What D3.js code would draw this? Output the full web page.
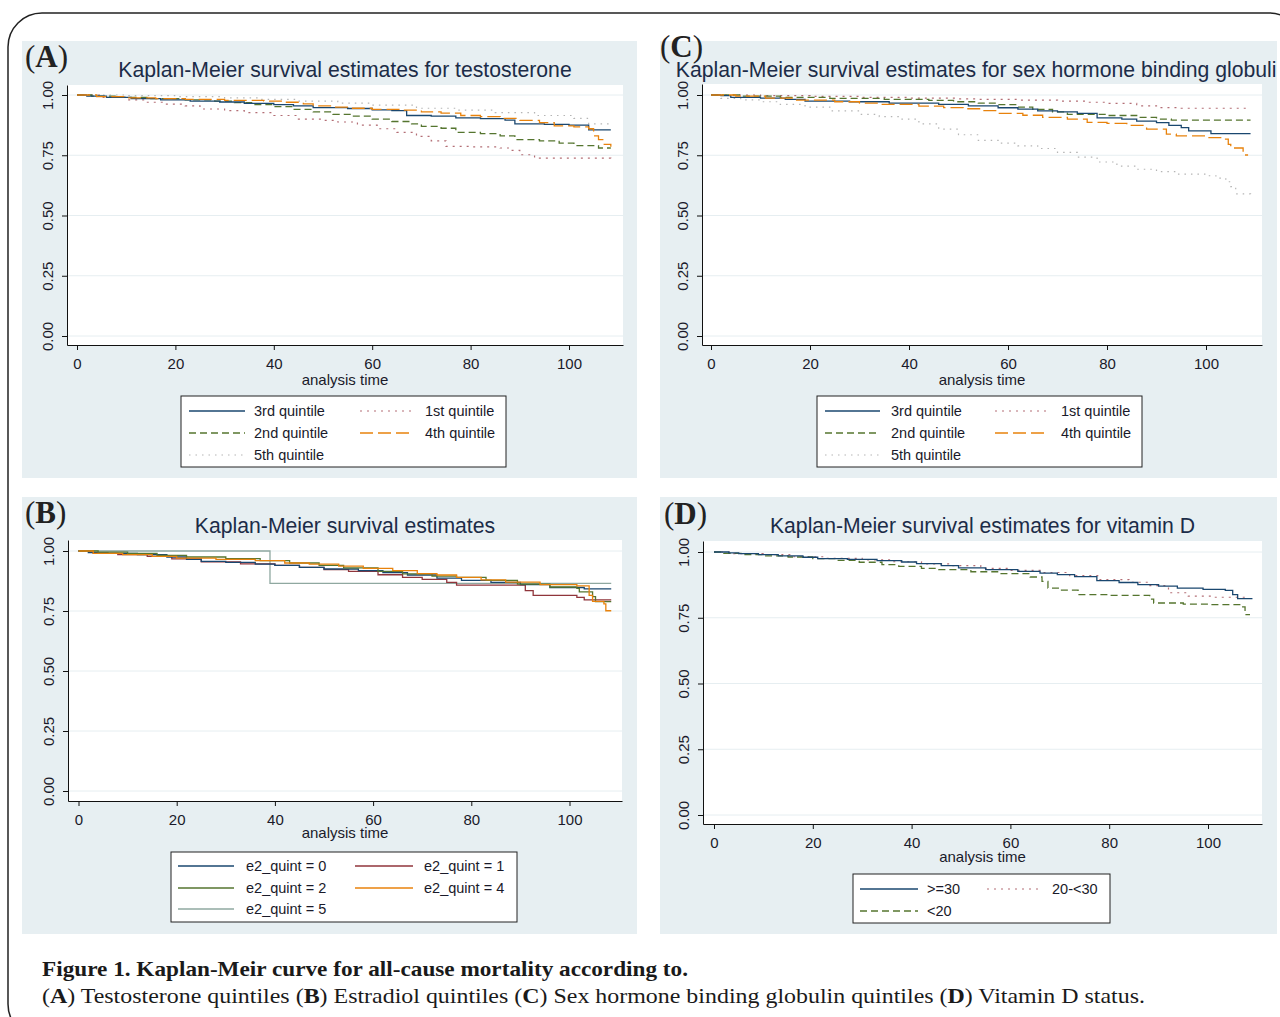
<!DOCTYPE html>
<html lang="en">
<head>
<meta charset="UTF-8">
<title>Kaplan-Meier curves for all-cause mortality</title>
<script src="https://cdn.jsdelivr.net/npm/d3@7"></script>
<style>
  body { margin: 0; background: #fff; }
  svg { display: block; }
</style>
</head>
<body>
<script>
// tick values shared by all four panels
const timeTicks = [0, 20, 40, 60, 80, 100];
const survTicks = [0, 0.25, 0.5, 0.75, 1];

// (A) testosterone quintiles  [analysis time, survival]
const testoQ3 = [[0,1],[2,0.995],[6,0.99],[11,0.985],[17,0.98],[23,0.975],[29,0.971],[34,0.965],[40,0.96],[44,0.955],[48,0.948],[55,0.944],[60,0.938],[64,0.935],[67,0.915],[72,0.912],[77,0.905],[82,0.902],[87,0.896],[89,0.88],[95,0.878],[100,0.875],[104,0.855],[108.5,0.855]];
const testoQ1 = [[0,1],[5,0.99],[10,0.98],[14,0.97],[18,0.962],[22,0.955],[25,0.942],[30,0.935],[34,0.927],[40,0.915],[45,0.9],[50,0.895],[53,0.888],[57,0.875],[61,0.86],[65,0.845],[69,0.828],[72,0.81],[75,0.787],[80,0.785],[86,0.78],[88,0.77],[90,0.752],[93,0.738],[108.5,0.735]];
const testoQ2 = [[0,1],[3,0.995],[8,0.99],[15,0.985],[22,0.98],[28,0.975],[32,0.968],[36,0.96],[40,0.952],[44,0.94],[48,0.93],[52,0.92],[56,0.912],[60,0.9],[64,0.89],[68,0.88],[70,0.87],[74,0.862],[77,0.845],[82,0.84],[86,0.83],[89,0.815],[94,0.81],[98,0.8],[101,0.79],[106,0.78],[108.5,0.78]];
const testoQ4 = [[0,1],[4,0.993],[10,0.988],[16,0.985],[22,0.982],[30,0.978],[38,0.975],[42,0.97],[46,0.963],[48,0.955],[52,0.95],[56,0.945],[60,0.94],[66,0.937],[70,0.93],[74,0.925],[78,0.915],[82,0.91],[86,0.903],[90,0.895],[94,0.885],[97,0.872],[101,0.868],[104,0.86],[105,0.83],[106,0.815],[107,0.795],[108.5,0.785]];
const testoQ5 = [[0,1],[10,0.997],[20,0.993],[30,0.988],[37,0.982],[45,0.975],[53,0.966],[60,0.958],[69,0.945],[77,0.937],[85,0.927],[93,0.915],[101,0.903],[104,0.88],[108.5,0.872]];
const testoLabels = ["3rd quintile", "1st quintile", "2nd quintile", "4th quintile", "5th quintile"];

// (B) estradiol quintiles
const e2Q0 = [[0,1],[2,0.993],[6,0.99],[12,0.985],[18,0.975],[22,0.965],[25,0.957],[30,0.953],[36,0.945],[40,0.94],[45,0.932],[50,0.925],[57,0.918],[62,0.91],[67,0.9],[73,0.887],[78,0.878],[84,0.869],[90,0.86],[96,0.848],[103,0.842],[108.5,0.842]];
const e2Q1 = [[0,1],[3,0.99],[8,0.985],[14,0.978],[19,0.967],[25,0.955],[33,0.946],[40,0.94],[45,0.932],[50,0.922],[55,0.915],[61,0.901],[66,0.89],[70,0.882],[75,0.869],[77,0.858],[91,0.835],[92.6,0.815],[101.5,0.807],[103,0.796],[108.5,0.796]];
const e2Q2 = [[0,1],[4,0.995],[10,0.99],[16,0.982],[22,0.975],[30,0.968],[37,0.96],[43,0.95],[49,0.94],[54,0.93],[61,0.915],[66,0.905],[72,0.895],[77,0.89],[83,0.878],[89.4,0.862],[96,0.85],[101.5,0.844],[102,0.83],[104.7,0.81],[105.3,0.789],[108.5,0.789]];
const e2Q4 = [[0,1],[3,0.99],[9,0.985],[15,0.978],[20,0.97],[28,0.965],[36,0.96],[42,0.95],[47,0.945],[53,0.937],[58,0.928],[64,0.918],[69,0.906],[73,0.9],[77,0.89],[82,0.88],[87,0.87],[94,0.86],[101.5,0.855],[104,0.815],[104.7,0.79],[107,0.78],[107.4,0.751],[108.5,0.751]];
const e2Q5 = [[0,1],[39,0.865],[108.5,0.865]];
const e2Labels = ["e2_quint = 0", "e2_quint = 1", "e2_quint = 2", "e2_quint = 4", "e2_quint = 5"];

// (C) sex hormone binding globulin quintiles
const shbgQ3 = [[0,1],[2,0.997],[4,0.99],[10,0.987],[15,0.982],[19,0.975],[28,0.972],[36,0.966],[46,0.961],[52,0.955],[58,0.947],[62,0.941],[66,0.934],[70,0.93],[74,0.924],[78,0.905],[83,0.9],[86,0.892],[90,0.885],[92.5,0.874],[95,0.865],[96.5,0.851],[101,0.84],[109,0.84]];
const shbgQ1 = [[0,1],[10,0.997],[20,0.994],[30,0.99],[40,0.987],[50,0.984],[54,0.982],[62,0.979],[70,0.975],[76,0.97],[80,0.965],[86,0.955],[90,0.948],[95,0.945],[108.5,0.943]];
const shbgQ2 = [[0,1],[6,0.995],[14,0.99],[24,0.986],[35,0.982],[44,0.978],[49,0.972],[54,0.966],[58,0.96],[62,0.95],[65,0.94],[69,0.93],[72,0.92],[80,0.915],[86,0.907],[90,0.9],[93,0.896],[109,0.896]];
const shbgQ4 = [[0,1],[5,0.995],[11,0.987],[17,0.979],[25,0.972],[30,0.966],[34,0.961],[42,0.954],[47,0.948],[51,0.943],[55,0.935],[58,0.924],[63,0.916],[67,0.907],[72,0.9],[76,0.886],[80,0.882],[84,0.874],[88,0.858],[92,0.838],[94,0.83],[100,0.823],[103.5,0.817],[104.5,0.795],[105,0.78],[107.5,0.751],[108.5,0.751]];
const shbgQ5 = [[0,1],[2,0.986],[6,0.98],[10,0.972],[14,0.961],[19,0.95],[24,0.934],[30,0.92],[34,0.91],[38,0.9],[42,0.88],[46,0.858],[50,0.835],[54,0.812],[58,0.8],[62,0.789],[66,0.778],[70,0.762],[74,0.742],[78,0.722],[82,0.705],[86,0.692],[90,0.682],[94,0.672],[100,0.665],[102,0.655],[104,0.64],[105,0.62],[106,0.59],[109,0.582]];

// (D) vitamin D status
const vitD30 = [[0,1],[3,0.997],[5,0.994],[9,0.99],[13,0.985],[18,0.98],[21,0.975],[27,0.972],[33,0.967],[38,0.962],[41,0.956],[46,0.948],[49.5,0.94],[55,0.933],[61.5,0.926],[66,0.92],[69.5,0.914],[73,0.906],[77.5,0.891],[82,0.884],[85.8,0.876],[90,0.87],[93.8,0.863],[99,0.858],[103.5,0.854],[105,0.838],[106,0.823],[109,0.823]];
const vitD20 = [[0,1],[4,0.994],[10,0.99],[16,0.982],[22,0.976],[30,0.97],[36,0.963],[42,0.955],[48,0.948],[54,0.938],[60,0.93],[66,0.922],[72,0.91],[78,0.895],[84,0.885],[88,0.872],[92,0.845],[96,0.832],[101,0.828],[108,0.828]];
const vitDlt20 = [[0,1],[2,0.995],[6,0.99],[10,0.985],[15,0.981],[20,0.975],[25,0.968],[29.4,0.961],[34,0.952],[37.4,0.945],[42,0.938],[45.5,0.933],[52,0.925],[57.6,0.918],[64,0.905],[66.4,0.888],[67.6,0.863],[70,0.855],[73.7,0.838],[80,0.835],[88.2,0.821],[89,0.806],[95,0.802],[100,0.8],[106.7,0.791],[107.5,0.762],[108.5,0.762]];
const vitDLabels = [">=30", "20-<30", "<20"];

const titles = [
  "Kaplan-Meier survival estimates for testosterone",
  "Kaplan-Meier survival estimates",
  "Kaplan-Meier survival estimates for sex hormone binding globulin",
  "Kaplan-Meier survival estimates for vitamin D"
];

// line looks (stata s2color)
const looks = {
  navy:   { color: "#1a476f", dash: null, width: 1.3 },
  maroon: { color: "#90353b", dash: null, width: 1.3 },
  green:  { color: "#55752f", dash: null, width: 1.3 },
  orange: { color: "#e8820c", dash: null, width: 1.3 },
  teal:   { color: "#8fa8a0", dash: null, width: 1.3 },
  mDot:   { color: "#a04a52", dash: "2,5", width: 1.2, opacity: 0.8 },
  gDash:  { color: "#55752f", dash: "7,4", width: 1.3 },
  oLong:  { color: "#e8820c", dash: "13,5", width: 1.3 },
  gryDot: { color: "#b5b5b5", dash: "1.5,5", width: 1.2 }
};

const panels = [
  { tag: "A", title: titles[0], bg: [22, 41, 615, 437], plot: { l: 67, r: 623, t: 85, b: 345 },
    x0: 77, x100: 569, y0: 336, y1: 95, xlabDy: 40, tagPos: [25, 67],
    series: [[testoQ5, "gryDot"], [testoQ1, "mDot"], [testoQ2, "gDash"], [testoQ3, "navy"], [testoQ4, "oLong"]],
    legend: { box: [181, 396, 325, 71], cols: [[189, 245, 254], [360, 411, 425]], rows: [411, 433, 455],
      items: [[testoLabels[0], "navy"], [testoLabels[1], "mDot"], [testoLabels[2], "gDash"], [testoLabels[3], "oLong"], [testoLabels[4], "gryDot"]] } },
  { tag: "B", title: titles[1], bg: [22, 497, 615, 437], plot: { l: 68, r: 622, t: 540, b: 801 },
    x0: 78.5, x100: 569.5, y0: 791, y1: 551, xlabDy: 37, tagPos: [25, 523],
    series: [[e2Q5, "teal"], [e2Q1, "maroon"], [e2Q0, "navy"], [e2Q2, "green"], [e2Q4, "orange"]],
    legend: { box: [171, 852, 346, 70], cols: [[178, 234, 246], [355, 413, 424]], rows: [866, 888, 909],
      items: [[e2Labels[0], "navy"], [e2Labels[1], "maroon"], [e2Labels[2], "green"], [e2Labels[3], "orange"], [e2Labels[4], "teal"]] } },
  { tag: "C", title: titles[2], bg: [660, 41, 617, 437], plot: { l: 702, r: 1262, t: 84, b: 345 },
    x0: 711, x100: 1206, y0: 336, y1: 95, xlabDy: 40, tagPos: [660, 57],
    series: [[shbgQ5, "gryDot"], [shbgQ1, "mDot"], [shbgQ2, "gDash"], [shbgQ3, "navy"], [shbgQ4, "oLong"]],
    legend: { box: [817, 396, 325, 71], cols: [[825, 880, 891], [995, 1047, 1061]], rows: [411, 433, 455],
      items: [[testoLabels[0], "navy"], [testoLabels[1], "mDot"], [testoLabels[2], "gDash"], [testoLabels[3], "oLong"], [testoLabels[4], "gryDot"]] } },
  { tag: "D", title: titles[3], bg: [660, 497, 617, 437], plot: { l: 703, r: 1262, t: 541, b: 824 },
    x0: 714, x100: 1208, y0: 815, y1: 552, xlabDy: 38, tagPos: [664, 524],
    series: [[vitD20, "mDot"], [vitDlt20, "gDash"], [vitD30, "navy"]],
    legend: { box: [853, 874, 257, 49], cols: [[860, 918, 927], [987, 1043, 1052]], rows: [889, 911],
      items: [[vitDLabels[0], "navy"], [vitDLabels[1], "mDot"], [vitDLabels[2], "gDash"]] } }
];

const sans = "'Liberation Sans', Arial, sans-serif";
const serif = "'Liberation Serif', 'Times New Roman', serif";

const svg = d3.select("body").append("svg")
    .attr("width", 1280)
    .attr("height", 1017);

// outer rounded frame
svg.append("rect")
    .attr("x", 8).attr("y", 13)
    .attr("width", 1295).attr("height", 1025)
    .attr("rx", 34).attr("ry", 34)
    .attr("fill", "#fff")
    .attr("stroke", "#222")
    .attr("stroke-width", 1.5);

function applyLook(sel, key) {
  const lk = looks[key];
  sel.attr("fill", "none")
     .attr("stroke", lk.color)
     .attr("stroke-width", lk.width)
     .attr("stroke-opacity", lk.opacity || 1);
  if (lk.dash) sel.attr("stroke-dasharray", lk.dash);
}

panels.forEach((p, pi) => {
  const g = svg.append("g");
  const [bx, by, bw, bh] = p.bg;

  g.append("rect")
      .attr("x", bx).attr("y", by)
      .attr("width", bw).attr("height", bh)
      .attr("fill", "#e7eff2");

  const clipId = "clip" + pi;
  svg.append("clipPath").attr("id", clipId)
    .append("rect").attr("x", bx).attr("y", by - 20).attr("width", bw).attr("height", bh + 20);

  // scales: the axis spans the whole plot box, 0..100 falls where the ticks are
  const ppx = (p.x100 - p.x0) / 100;
  const ppy = (p.y0 - p.y1);
  const x = d3.scaleLinear()
      .domain([(p.plot.l - p.x0) / ppx, (p.plot.r - p.x0) / ppx])
      .range([p.plot.l, p.plot.r]);
  const y = d3.scaleLinear()
      .domain([(p.y0 - p.plot.b) / ppy, (p.y0 - p.plot.t) / ppy])
      .range([p.plot.b, p.plot.t]);

  g.append("rect")
      .attr("x", p.plot.l).attr("y", p.plot.t)
      .attr("width", p.plot.r - p.plot.l).attr("height", p.plot.b - p.plot.t)
      .attr("fill", "#fff");

  // grid lines
  g.selectAll("line.grid")
    .data(survTicks)
    .enter().append("line")
      .attr("class", "grid")
      .attr("x1", p.plot.l).attr("x2", p.plot.r)
      .attr("y1", d => y(d)).attr("y2", d => y(d))
      .attr("stroke", "#e6eef1")
      .attr("stroke-width", 1);

  // title (C is wider than its panel and gets cut at the edge)
  g.append("text")
      .attr("x", (p.plot.l + p.plot.r) / 2)
      .attr("y", by + 35.5)
      .attr("text-anchor", "middle")
      .attr("clip-path", `url(#${clipId})`)
      .style("font-family", sans)
      .style("font-size", "21.2px")
      .attr("fill", "#1c2c48")
      .text(p.title);

  // survival curves
  const line = d3.line()
      .x(d => x(d[0]))
      .y(d => y(d[1]))
      .curve(d3.curveStepAfter);

  p.series.forEach(([data, key]) => {
    g.append("path")
        .datum(data)
        .attr("d", line)
        .call(applyLook, key);
  });

  // axes
  const xAxis = g.append("g")
      .attr("transform", `translate(0,${p.plot.b})`)
      .call(d3.axisBottom(x).tickValues(timeTicks).tickSize(5).tickSizeOuter(0).tickPadding(8));
  xAxis.select(".domain").attr("stroke", "#111");
  xAxis.selectAll(".tick line").attr("stroke", "#111");
  xAxis.selectAll("text")
      .attr("fill", "#1a1a2a")
      .style("font-family", sans)
      .style("font-size", "15px");

  const yAxis = g.append("g")
      .attr("transform", `translate(${p.plot.l},0)`)
      .call(d3.axisLeft(y).tickValues(survTicks).tickSize(5).tickSizeOuter(0).tickFormat(d3.format(".2f")));
  yAxis.select(".domain").attr("stroke", "#111");
  yAxis.selectAll(".tick line").attr("stroke", "#111");
  yAxis.selectAll("text")
      .attr("x", 0).attr("dy", 0)
      .attr("transform", "translate(-14.5,0) rotate(-90)")
      .attr("text-anchor", "middle")
      .attr("fill", "#1a1a2a")
      .style("font-family", sans)
      .style("font-size", "15px");

  g.append("text")
      .attr("x", (p.plot.l + p.plot.r) / 2)
      .attr("y", p.plot.b + p.xlabDy)
      .attr("text-anchor", "middle")
      .style("font-family", sans)
      .style("font-size", "15px")
      .attr("fill", "#1a1a2a")
      .text("analysis time");

  // legend
  const L = p.legend;
  g.append("rect")
      .attr("x", L.box[0]).attr("y", L.box[1])
      .attr("width", L.box[2]).attr("height", L.box[3])
      .attr("fill", "#fff")
      .attr("stroke", "#222")
      .attr("stroke-width", 1);

  L.items.forEach(([label, key], i) => {
    const col = L.cols[i % 2];
    const row = L.rows[Math.floor(i / 2)];
    g.append("line")
        .attr("x1", col[0]).attr("x2", col[1])
        .attr("y1", row).attr("y2", row)
        .call(applyLook, key);
    g.append("text")
        .attr("x", col[2])
        .attr("y", row + 5)
        .style("font-family", sans)
        .style("font-size", "14.5px")
        .attr("fill", "#1a1a2a")
        .text(label);
  });

  // panel tag, e.g. (A)
  const tag = svg.append("text")
      .attr("x", p.tagPos[0]).attr("y", p.tagPos[1])
      .style("font-family", serif)
      .style("font-size", "31px")
      .attr("fill", "#222");
  tag.append("tspan").text("(");
  tag.append("tspan").style("font-weight", "bold").text(p.tag);
  tag.append("tspan").text(")");
});

// caption
svg.append("text")
    .attr("x", 42).attr("y", 976)
    .attr("textLength", 646)
    .attr("lengthAdjust", "spacingAndGlyphs")
    .style("font-family", serif)
    .style("font-size", "22px")
    .style("font-weight", "bold")
    .attr("fill", "#1a1a1a")
    .text("Figure 1. Kaplan-Meir curve for all-cause mortality according to.");

const capParts = [
  ["(", false], ["A", true], [") Testosterone quintiles (", false], ["B", true],
  [") Estradiol quintiles (", false], ["C", true],
  [") Sex hormone binding globulin quintiles (", false], ["D", true], [") Vitamin D status.", false]
];
const cap2 = svg.append("text")
    .attr("x", 42).attr("y", 1003)
    .attr("textLength", 1103)
    .attr("lengthAdjust", "spacingAndGlyphs")
    .style("font-family", serif)
    .style("font-size", "22px")
    .attr("fill", "#1a1a1a");
capParts.forEach(([t, b]) => {
  cap2.append("tspan").style("font-weight", b ? "bold" : "normal").text(t);
});
</script>
</body>
</html>
